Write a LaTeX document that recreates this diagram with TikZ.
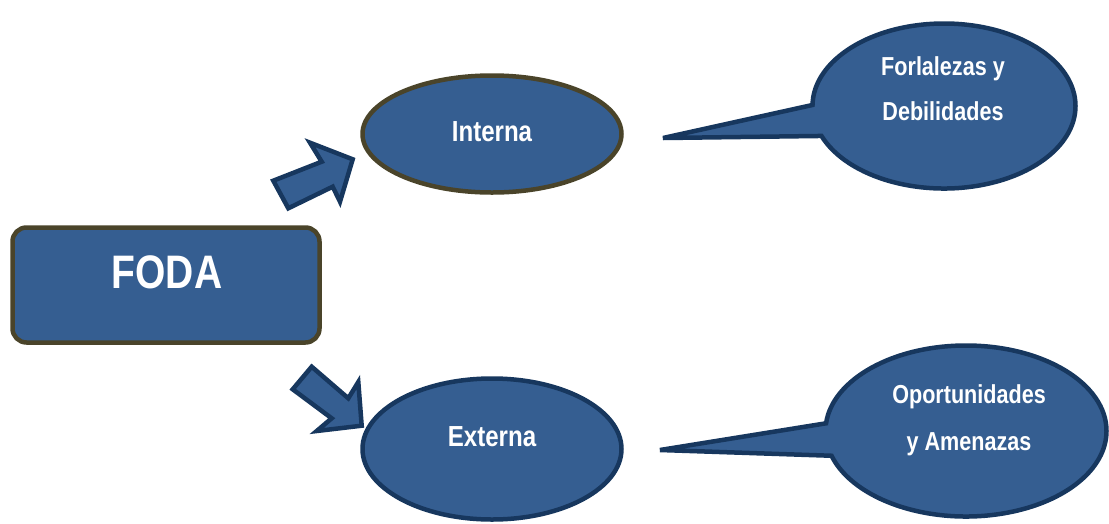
\documentclass[tikz,border=0pt]{standalone}
\usepackage{fontspec}
\setmainfont{Liberation Sans}[FakeStretch=0.83]
\usetikzlibrary{shapes.geometric,shapes.callouts}
\definecolor{boxfill}{RGB}{53,94,145}
\definecolor{oliveedge}{RGB}{74,68,42}
\definecolor{navyedge}{RGB}{23,55,94}
\begin{document}
\begin{tikzpicture}[x=1pt,y=1pt,
  every node/.style={inner sep=0pt, outer sep=0pt},
  shapebase/.style={fill=boxfill, line width=4.5pt},
  oliveshape/.style={shapebase, draw=oliveedge},
  navyshape/.style={shapebase, draw=navyedge},
  bubble/.style={navyshape, ellipse callout, callout pointer arc=22, miter limit=3},
  fatarrow/.style={navyshape, line join=miter},
  label text/.style={text=white, anchor=base},
  big text/.style={label text, font=\bfseries\fontsize{47}{50}\selectfont},
  mid text/.style={label text, font=\bfseries\fontsize{29}{32}\selectfont},
  small text/.style={label text, font=\bfseries\fontsize{26}{30}\selectfont},
  callout text/.style={label text, font=\bfseries\fontsize{26}{30}\selectfont}]
\useasboundingbox (0,0) rectangle (1109,-523);

% main box
\node[oliveshape, rounded corners=14pt, minimum width=307pt, minimum height=115pt] (foda) at (166,-285) {};
\node[big text] (fodalabel) at (167,-288) {FODA};

% the two analysis ellipses
\node[oliveshape, ellipse, minimum width=259pt, minimum height=117pt] (interna) at (492,-134) {};
\node[mid text] (internalabel) at (492,-141) {Interna};
\node[navyshape, ellipse, minimum width=259pt, minimum height=141pt] (externa) at (492,-449) {};
\node[mid text] (externalabel) at (492,-446) {Externa};

% block arrows from the box towards the ellipses
\draw[fatarrow] (288.3,-208.3) -- (273.3,-180.7) -- (321.7,-161.7) -- (310,-142.7)
  -- (352.7,-159.3) -- (340,-201.7) -- (332.7,-186.7) -- cycle;
\draw[fatarrow] (311.7,-366.7) -- (292.7,-389.3) -- (331.7,-418.3) -- (316.7,-431)
  -- (361.7,-425.7) -- (358.3,-382) -- (348.3,-398.3) -- cycle;

% speech bubbles
\coordinate (tipA) at (663,-138);
\coordinate (tipB) at (660,-450);
\node[bubble, minimum width=263pt, minimum height=165pt, callout absolute pointer=(tipA)] (fd) at (944,-106) {};
\node[small text] (fdone) at (943,-75) {Forlalezas y};
\node[small text] (fdtwo) at (943,-120) {Debilidades};
\node[bubble, minimum width=281pt, minimum height=171pt, callout absolute pointer=(tipB)] (oa) at (966,-431) {};
\node[callout text] (oaone) at (969,-403) {Oportunidades};
\node[callout text] (oatwo) at (969,-450) {y Amenazas};
\end{tikzpicture}
\end{document}
